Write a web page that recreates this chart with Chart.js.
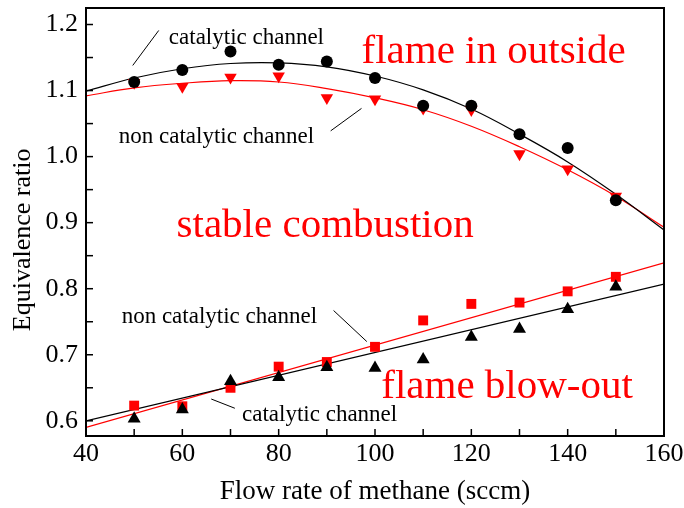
<!DOCTYPE html>
<html>
<head>
<meta charset="utf-8">
<script src="https://cdn.jsdelivr.net/npm/chart.js@4.4.0/dist/chart.umd.min.js"></script>
<style>
  html, body { margin: 0; padding: 0; background: #fff; }
</style>
</head>
<body>
<canvas class="chart" width="684" height="508"></canvas>
<script>
// flow rate of methane (sccm) at each measurement
const flowRates = [50, 60, 70, 80, 90, 100, 110, 120, 130, 140, 150];

// upper limit: above it the flame sits outside the channel
const upperCatalytic = [1.113, 1.131, 1.159, 1.139, 1.144, 1.119, 1.077, 1.077, 1.034, 1.013, 0.934];
const upperNonCatalytic = [1.112, 1.106, 1.120, 1.122, 1.089, 1.087, 1.073, 1.071, 1.004, 0.981, 0.940];

// lower limit: below it the flame blows out
const lowerCatalytic = [0.603, 0.617, 0.660, 0.666, 0.681, 0.680, 0.693, 0.727, 0.739, 0.769, 0.803];
const lowerNonCatalytic = [0.623, 0.622, 0.650, 0.682, 0.689, 0.712, 0.752, 0.777, 0.779, 0.796, 0.818];

// fitted curves
const fitX = [40, 50, 60, 70, 80, 90, 100, 110, 120, 130, 140, 150, 160];
const upperCatalyticFit = [1.099, 1.119, 1.133, 1.141, 1.142, 1.136, 1.122, 1.101, 1.072, 1.034, 0.992, 0.943, 0.889];
const upperNonCatalyticFit = [1.092, 1.104, 1.111, 1.115, 1.113, 1.103, 1.089, 1.071, 1.046, 1.015, 0.980, 0.940, 0.893];
const lineX = [40, 160];
const lowerCatalyticFit = [0.600, 0.807];
const lowerNonCatalyticFit = [0.590, 0.839];

const serif = "'Liberation Serif', 'Times New Roman', serif";

// labels inside the plot, placed in data units
const notes = [
    { text: 'catalytic channel', x: 57.2, y: 1.171, size: 23, color: '#000' },
    { text: 'non catalytic channel', x: 46.8, y: 1.021, size: 23, color: '#000' },
    { text: 'non catalytic channel', x: 47.4, y: 0.7485, size: 23, color: '#000' },
    { text: 'catalytic channel', x: 72.4, y: 0.599, size: 23, color: '#000' },
    { text: 'flame in outside', x: 97.2, y: 1.142, size: 41, color: '#ff0000' },
    { text: 'stable combustion', x: 58.8, y: 0.879, size: 41, color: '#ff0000' },
    { text: 'flame blow-out', x: 101.3, y: 0.635, size: 41, color: '#ff0000' }
];
const leaders = [
    [55.1, 1.191, 49.7, 1.138],
    [90.8, 1.039, 97.2, 1.073],
    [91.4, 0.767, 98.3, 0.720],
    [66.0, 0.633, 70.9, 0.619]
];

function toPoints(xs, ys) {
    return xs.map((x, i) => ({ x: x, y: ys[i] }));
}

function segment(ctx, x1, y1, x2, y2) {
    ctx.beginPath();
    ctx.moveTo(x1, y1);
    ctx.lineTo(x2, y2);
    ctx.stroke();
}

const plotExtras = {
    id: 'plotExtras',
    afterDatasetsDraw(chart) {
        const ctx = chart.ctx;
        const xs = chart.scales.x;
        const ys = chart.scales.y;
        ctx.save();
        ctx.strokeStyle = '#000';
        ctx.lineWidth = 1;
        leaders.forEach(l => {
            segment(ctx, xs.getPixelForValue(l[0]), ys.getPixelForValue(l[1]),
                xs.getPixelForValue(l[2]), ys.getPixelForValue(l[3]));
        });
        ctx.textAlign = 'left';
        ctx.textBaseline = 'alphabetic';
        notes.forEach(n => {
            ctx.fillStyle = n.color;
            ctx.font = n.size + 'px ' + serif;
            ctx.fillText(n.text, xs.getPixelForValue(n.x), ys.getPixelForValue(n.y));
        });

        // y axis title
        ctx.fillStyle = '#000';
        ctx.font = '26px ' + serif;
        ctx.textAlign = 'center';
        ctx.textBaseline = 'middle';
        ctx.translate(ys.left + 23, ys.getPixelForValue(0.874));
        ctx.rotate(-Math.PI / 2);
        ctx.fillText('Equivalence ratio', 0, 0);
        ctx.restore();
    },
    afterDraw(chart) {
        const a = chart.chartArea;
        const ctx = chart.ctx;
        const xs = chart.scales.x;
        const ys = chart.scales.y;
        ctx.save();
        ctx.strokeStyle = '#000';

        // tick marks point into the plot
        ctx.lineWidth = 1.5;
        xs.ticks.forEach(t => {
            const px = xs.getPixelForValue(t.value);
            segment(ctx, px, a.bottom, px, a.bottom - 7);
        });
        ys.ticks.forEach(t => {
            const py = ys.getPixelForValue(t.value);
            segment(ctx, a.left, py, a.left + 7, py);
        });

        ctx.lineWidth = 2;
        ctx.strokeRect(a.left, a.top, a.right - a.left, a.bottom - a.top);
        ctx.restore();
    }
};

document.addEventListener('DOMContentLoaded', function () {
    const chartCanvas = document.querySelector('.chart');

    new Chart(chartCanvas.getContext('2d'), {
        type: 'scatter',
        data: {
            datasets: [
                {
                    label: 'catalytic channel (upper)',
                    data: toPoints(flowRates, upperCatalytic),
                    pointStyle: 'circle',
                    pointRadius: 6,
                    backgroundColor: '#000',
                    borderColor: '#000',
                    borderWidth: 0
                },
                {
                    label: 'non catalytic channel (upper)',
                    data: toPoints(flowRates, upperNonCatalytic),
                    pointStyle: 'triangle',
                    rotation: 180,
                    pointRadius: 7.2,
                    backgroundColor: '#ff0000',
                    borderColor: '#ff0000',
                    borderWidth: 0
                },
                {
                    label: 'catalytic channel (lower)',
                    data: toPoints(flowRates, lowerCatalytic),
                    pointStyle: 'triangle',
                    pointRadius: 7.5,
                    backgroundColor: '#000',
                    borderColor: '#000',
                    borderWidth: 0
                },
                {
                    label: 'non catalytic channel (lower)',
                    data: toPoints(flowRates, lowerNonCatalytic),
                    pointStyle: 'rect',
                    pointRadius: 7,
                    backgroundColor: '#ff0000',
                    borderColor: '#ff0000',
                    borderWidth: 0
                },
                {
                    label: 'fit catalytic (upper)',
                    data: toPoints(fitX, upperCatalyticFit),
                    showLine: true,
                    tension: 0.4,
                    pointRadius: 0,
                    borderColor: '#000',
                    borderWidth: 1.2
                },
                {
                    label: 'fit non catalytic (upper)',
                    data: toPoints(fitX, upperNonCatalyticFit),
                    showLine: true,
                    tension: 0.4,
                    pointRadius: 0,
                    borderColor: '#ff0000',
                    borderWidth: 1.2
                },
                {
                    label: 'fit catalytic (lower)',
                    data: toPoints(lineX, lowerCatalyticFit),
                    showLine: true,
                    pointRadius: 0,
                    borderColor: '#000',
                    borderWidth: 1.2
                },
                {
                    label: 'fit non catalytic (lower)',
                    data: toPoints(lineX, lowerNonCatalyticFit),
                    showLine: true,
                    pointRadius: 0,
                    borderColor: '#ff0000',
                    borderWidth: 1.2
                }
            ]
        },
        options: {
            responsive: false,
            animation: false,
            layout: { padding: { top: 8, right: 20, bottom: 0, left: 0 } },
            plugins: {
                legend: { display: false },
                tooltip: { enabled: false }
            },
            scales: {
                x: {
                    type: 'linear',
                    min: 40,
                    max: 160,
                    afterFit: function (scale) {
                        scale.height = 72;
                        scale.paddingLeft = 0;
                        scale.paddingRight = 0;
                    },
                    border: { display: true, color: '#000', width: 2 },
                    grid: { display: false, drawTicks: false },
                    ticks: {
                        stepSize: 10,
                        autoSkip: false,
                        maxRotation: 0,
                        padding: 3,
                        color: '#000',
                        font: { family: serif, size: 26 },
                        callback: v => (v % 20 === 0 ? String(v) : '')
                    },
                    title: {
                        display: true,
                        text: 'Flow rate of methane (sccm)',
                        color: '#000',
                        font: { family: serif, size: 27 },
                        padding: { top: 0, bottom: 0 }
                    }
                },
                y: {
                    min: 0.577,
                    max: 1.225,
                    afterFit: function (scale) {
                        scale.width = 86;
                        scale.paddingTop = 0;
                        scale.paddingBottom = 0;
                    },
                    border: { display: true, color: '#000', width: 2 },
                    grid: { display: false, drawTicks: false },
                    ticks: {
                        stepSize: 0.05,
                        includeBounds: false,
                        autoSkip: false,
                        padding: 8,
                        color: '#000',
                        font: { family: serif, size: 26 },
                        callback: v => (Math.abs(v * 10 - Math.round(v * 10)) < 1e-6 ? v.toFixed(1) : '')
                    }
                }
            }
        },
        plugins: [plotExtras]
    });
});
</script>
</body>
</html>
